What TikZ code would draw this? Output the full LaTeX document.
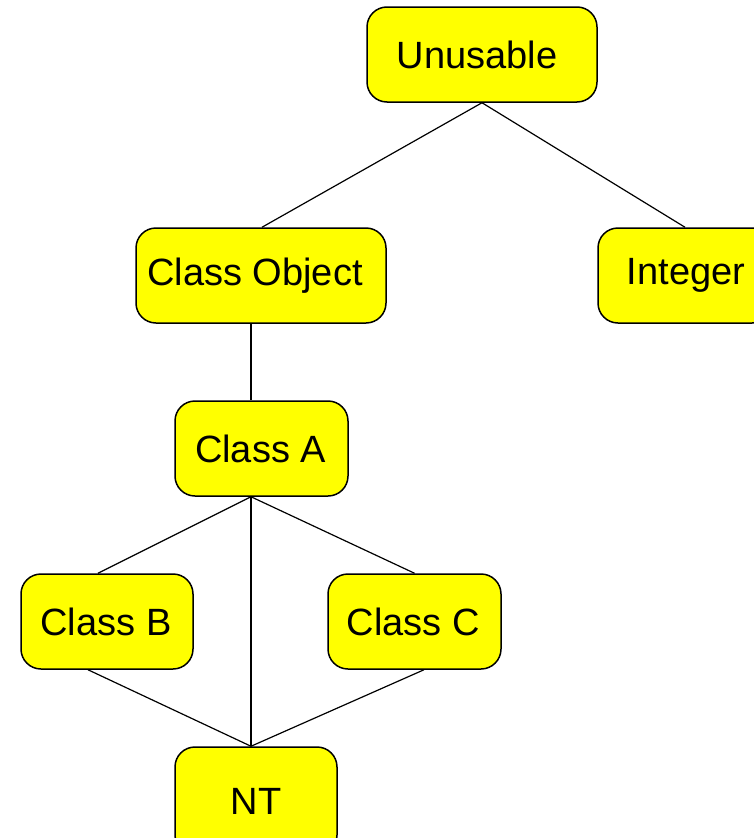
\documentclass[tikz,border=0pt]{standalone}
\usepackage{fontspec}
\setmainfont{Liberation Sans}
\definecolor{boxyellow}{RGB}{255,255,0}
\begin{document}
\begin{tikzpicture}[x=1pt,y=-1pt,
  box/.style={draw=black, line width=1.5pt, fill=boxyellow, rounded corners=20pt,
    minimum height=95pt, inner sep=0pt,
    font=\fontsize{38}{45}\selectfont},
  link/.style={draw=black, line width=1.2pt}]
\useasboundingbox (0,0) rectangle (753,838);

% class nodes
\node[box, minimum width=230pt] (unusable) at (482,54.5) {\hspace*{-10pt}Unusable};
\node[box, minimum width=250pt] (object) at (261,275.5) {\hspace*{-12pt}Class Object};
\node[box, minimum width=174pt] (integer) at (685,275.5) {\hspace*{2pt}Integer};
\node[box, minimum width=173pt] (classa) at (261.5,448.5) {\hspace*{-2pt}Class A};
\node[box, minimum width=172pt] (classb) at (107,621.5) {\hspace*{-2pt}Class B};
\node[box, minimum width=173pt] (classc) at (414.5,621.5) {\hspace*{-2pt}Class C};
\node[box, minimum width=162pt, minimum height=108pt] (nt) at (256,801) {NT};

% attachment points on the box edges
\coordinate (object-top) at ([xshift=1pt]object.north);
\coordinate (object-bot) at ([xshift=-10pt]object.south);
\coordinate (classa-top) at ([xshift=-10.5pt]classa.north);
\coordinate (classa-bot) at ([xshift=-10.5pt]classa.south);
\coordinate (classb-top) at ([xshift=-9pt]classb.north);
\coordinate (classb-bot) at ([xshift=-19pt]classb.south);
\coordinate (classc-bot) at ([xshift=9.5pt]classc.south);
\coordinate (nt-top) at ([xshift=-5pt]nt.north);

% hierarchy links
\draw[link] (unusable.south) -- (object-top);
\draw[link] (unusable.south) -- (integer.north);
\draw[link] (object-bot) -- (classa-top);
\draw[link] (classa-bot) -- (classb-top);
\draw[link] (classa-bot) -- (classc.north);
\draw[link] (classa-bot) -- (nt-top);
\draw[link] (classb-bot) -- (nt-top);
\draw[link] (classc-bot) -- (nt-top);
\end{tikzpicture}
\end{document}
